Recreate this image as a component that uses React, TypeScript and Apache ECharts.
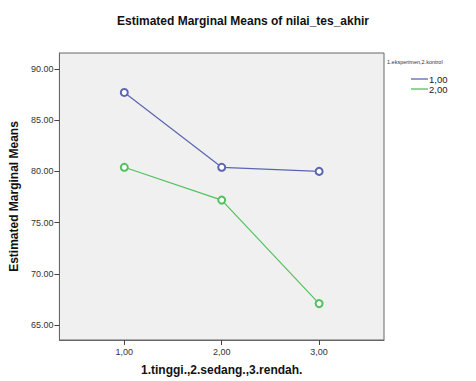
import React, { useEffect, useRef } from "react";
import * as echarts from "echarts";

const categories = [1, 2, 3];
const seriesNames = ["1,00", "2,00"];
const group1 = [87.7, 80.4, 80.0];
const group2 = [80.4, 77.2, 67.1];
const yTicks = [65, 70, 75, 80, 85, 90];
const colors = ["#5a66b0", "#52c25c"];

export default function App() {
  const ref = useRef<HTMLDivElement>(null);
  useEffect(() => {
    if (!ref.current) return;
    const chart = echarts.init(ref.current, null, { renderer: "svg" });
    const font = "Liberation Sans, Arial, sans-serif";
    const mk = (name: string, vals: number[], color: string) => ({
      name,
      type: "line",
      data: categories.map((c, i) => [c, vals[i]]),
      symbol: "emptyCircle",
      symbolSize: 7,
      lineStyle: { color, width: 1.2 },
      itemStyle: { color, borderColor: color, borderWidth: 1 },
      emphasis: { disabled: true },
    });
    chart.setOption({
      animation: false,
      backgroundColor: "#ffffff",
      textStyle: { fontFamily: font },
      title: {
        text: "Estimated Marginal Means of nilai_tes_akhir",
        left: 238,
        textAlign: "center",
        top: 10,
        textStyle: { fontSize: 12, fontWeight: "bold", color: "#111", fontFamily: font },
      },
      legend: {
        orient: "vertical",
        left: 406,
        top: 69,
        itemWidth: 17,
        itemHeight: 10,
        itemGap: 0,
        icon: "path://M0,0H17V1.3H0Z",
        data: seriesNames.map((n, i) => ({ name: n, itemStyle: { color: colors[i], borderWidth: 0 } })),
        textStyle: { fontSize: 9.5, color: "#222", fontFamily: font, padding: [0, 0, 0, -4] },
      },
      graphic: [
        {
          type: "text",
          left: 387,
          top: 59,
          style: { text: "1.eksperimen,2.kontrol", fontSize: 5.5, fill: "#333", fontFamily: font },
        },
      ],
      grid: {
        left: 57,
        right: 92,
        top: 53,
        bottom: 39,
        show: true,
        backgroundColor: "#f0f0f0",
        borderColor: "#666",
        borderWidth: 1,
      },
      xAxis: {
        type: "value",
        min: 0.334,
        max: 3.666,
        name: "1.tinggi.,2.sedang.,3.rendah.",
        nameLocation: "middle",
        nameGap: 24,
        nameTextStyle: { fontSize: 12, fontWeight: "bold", color: "#111", fontFamily: font },
        axisLine: { show: true, lineStyle: { color: "#666" } },
        axisTick: { show: true, length: 5, customValues: categories, lineStyle: { color: "#444" } },
        axisLabel: {
          customValues: categories,
          fontSize: 9,
          color: "#333",
          margin: 7,
          formatter: (v: number) => v.toFixed(2).replace(".", ","),
        },
        splitLine: { show: false },
      },
      yAxis: {
        type: "value",
        min: 63.55,
        max: 91.55,
        name: "Estimated Marginal Means",
        nameLocation: "middle",
        nameGap: 35,
        nameTextStyle: { fontSize: 12, fontWeight: "bold", color: "#111", fontFamily: font },
        axisLine: { show: true, lineStyle: { color: "#666" } },
        axisTick: { show: true, length: 5, customValues: yTicks, lineStyle: { color: "#444" } },
        axisLabel: {
          customValues: yTicks,
          fontSize: 9,
          color: "#333",
          margin: 6,
          formatter: (v: number) => v.toFixed(2),
        },
        splitLine: { show: false },
      },
      series: [mk(seriesNames[0], group1, colors[0]), mk(seriesNames[1], group2, colors[1])],
    });
    return () => chart.dispose();
  }, []);
  return <div ref={ref} style={{ width: 476, height: 381, position: "absolute", left: 0, top: 0 }} />;
}
